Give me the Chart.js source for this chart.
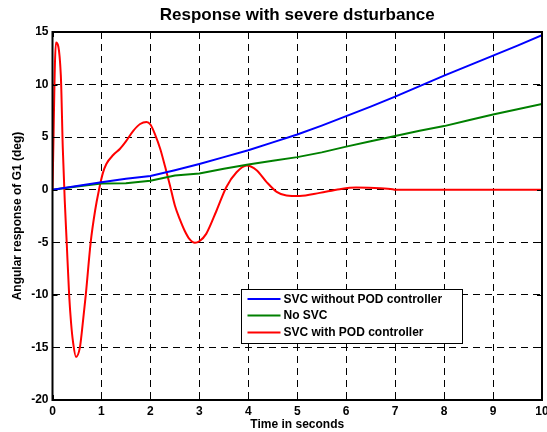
<!DOCTYPE html>
<html>
<head>
<meta charset="utf-8">
<script src="https://cdn.jsdelivr.net/npm/chart.js@4/dist/chart.umd.min.js"></script>
<style>
  html, body { margin: 0; padding: 0; background: #fff; }
  canvas { display: block; }
</style>
</head>
<body>
<canvas id="chart" width="547" height="432"></canvas>
<script>
const FONT = 'Liberation Sans, Arial, Helvetica, sans-serif';

const timeGrid = [0, 0.5, 1, 1.5, 2, 2.5, 3, 3.5, 4, 4.5, 5, 5.5, 6, 6.5, 7, 7.5, 8, 8.5, 9, 9.5, 10];
const svcNoPod = [0, 0.35, 0.7, 1.05, 1.3, 1.85, 2.45, 3.1, 3.75, 4.5, 5.25, 6.1, 7.0, 7.9, 8.85, 9.85, 10.85, 11.8, 12.75, 13.7, 14.7];
const noSvc = [0, 0.3, 0.6, 0.62, 0.85, 1.35, 1.55, 2.0, 2.4, 2.75, 3.1, 3.55, 4.1, 4.6, 5.1, 5.6, 6.05, 6.6, 7.15, 7.65, 8.15];

const podTime = [0, 0.07, 0.17, 0.21, 0.25, 0.29, 0.34, 0.38, 0.42, 0.48, 0.56, 0.6, 0.68, 0.78, 0.87, 0.95,
  1.03, 1.1, 1.24, 1.38, 1.5, 1.65, 1.79, 1.92, 2.0, 2.1, 2.2, 2.3, 2.4, 2.5, 2.6, 2.7, 2.8, 2.91,
  3.0, 3.14, 3.35, 3.55, 3.76, 3.97, 4.17, 4.37, 4.58, 4.78, 5.05, 5.46, 5.87, 6.2, 6.69, 6.95, 7, 10];
const svcPod = [0, 14, 10.9, 4, -1, -5, -10, -12.7, -14.5, -15.9, -15, -13.5, -10, -5, -2, 0,
  1.6, 2.45, 3.3, 3.9, 4.6, 5.6, 6.25, 6.45, 6.2, 5.2, 3.9, 2.2, 0.4, -1.5, -2.8, -3.9, -4.7, -5.05,
  -4.9, -4.2, -2.0, 0.24, 1.66, 2.3, 1.85, 0.75, -0.2, -0.55, -0.6, -0.3, 0.05, 0.2, 0.15, 0.05, 0, 0];

const xTicks = [0, 1, 2, 3, 4, 5, 6, 7, 8, 9, 10];
const yTicks = [-20, -15, -10, -5, 0, 5, 10, 15];

const seriesLabels = ['SVC without POD controller', 'No SVC', 'SVC with POD controller'];
const seriesColors = ['#0000ff', '#008000', '#ff0000'];

const toPoints = (xs, ys) => xs.map((x, i) => ({ x, y: ys[i] }));

// MATLAB-like box, inward ticks and the legend inside the axes
const matlabBox = {
  id: 'matlabBox',
  afterDraw(chart) {

    const { ctx, chartArea: ca, scales } = chart;

    ctx.save();
    ctx.strokeStyle = '#000';
    ctx.lineWidth = 1;
    ctx.beginPath();
    for (const t of xTicks) {
      const px = Math.round(scales.x.getPixelForValue(t)) + 0.5;
      ctx.moveTo(px, ca.bottom); ctx.lineTo(px, ca.bottom - 5);
      ctx.moveTo(px, ca.top); ctx.lineTo(px, ca.top + 5);
    }
    for (const t of yTicks) {
      const py = Math.round(scales.y.getPixelForValue(t)) + 0.5;
      ctx.moveTo(ca.left, py); ctx.lineTo(ca.left + 5, py);
      ctx.moveTo(ca.right, py); ctx.lineTo(ca.right - 5, py);
    }
    ctx.stroke();

    ctx.lineWidth = 2;
    ctx.strokeRect(ca.left, ca.top, ca.right - ca.left, ca.bottom - ca.top);

    // legend
    const bx = Math.round(ca.left + 188) + 0.5;
    const by = Math.round(ca.top + 257) + 0.5;
    ctx.fillStyle = '#fff';
    ctx.fillRect(bx, by, 221, 54);
    ctx.lineWidth = 1;
    ctx.strokeRect(bx, by, 221, 54);

    const rows = [9.5, 26, 43];
    ctx.font = 'bold 12px ' + FONT;
    ctx.textBaseline = 'middle';
    chart.data.datasets.forEach((ds, i) => {
      ctx.strokeStyle = ds.borderColor;
      ctx.lineWidth = 2;
      ctx.beginPath();
      ctx.moveTo(bx + 6, by + rows[i]);
      ctx.lineTo(bx + 39, by + rows[i]);
      ctx.stroke();
      ctx.fillStyle = '#000';
      ctx.fillText(ds.label, bx + 42, by + rows[i] + 0.5);
    });

    ctx.restore();

  }
};

const data = {
  datasets: [
    { label: seriesLabels[0], data: toPoints(timeGrid, svcNoPod), borderColor: seriesColors[0] },
    { label: seriesLabels[1], data: toPoints(timeGrid, noSvc), borderColor: seriesColors[1] },
    { label: seriesLabels[2], data: toPoints(podTime, svcPod), borderColor: seriesColors[2], tension: 0.3, cubicInterpolationMode: 'monotone' }
  ].map(ds => Object.assign({ borderWidth: 2, pointRadius: 0, fill: false }, ds))
};

const config = {
  type: 'line',
  data: data,
  options: {
    responsive: false,
    animation: false,
    devicePixelRatio: 1,
    layout: { padding: { left: 0, right: 5, top: 0, bottom: 0 } },
    scales: {
      x: {
        type: 'linear',
        min: 0,
        max: 10,
        afterFit: scale => {
          scale.height = 32;
          scale.paddingLeft = 0;
          scale.paddingRight = 0;
        },
        afterBuildTicks: scale => {
          scale.ticks = xTicks.map(v => ({ value: v }));
        },
        ticks: {
          padding: 4,
          maxRotation: 0,
          color: '#000',
          font: { family: FONT, size: 12, weight: 'bold' }
        },
        grid: { color: '#000', lineWidth: 1, drawTicks: false },
        border: { display: true, color: '#000', width: 1, dash: [7, 5] },
        title: {
          display: true,
          text: 'Time in seconds',
          color: '#000',
          padding: { top: 0, bottom: 0 },
          font: { family: FONT, size: 12, weight: 'bold' }
        }
      },
      y: {
        type: 'linear',
        min: -20,
        max: 15,
        afterFit: scale => {
          scale.width = 52.5;
          scale.paddingTop = 0;
          scale.paddingBottom = 0;
        },
        afterBuildTicks: scale => {
          scale.ticks = yTicks.map(v => ({ value: v }));
        },
        ticks: {
          padding: 4,
          color: '#000',
          font: { family: FONT, size: 12, weight: 'bold' }
        },
        grid: { color: '#000', lineWidth: 1, drawTicks: false },
        border: { display: true, color: '#000', width: 1, dash: [7, 5] },
        title: {
          display: true,
          text: 'Angular response of G1 (deg)',
          color: '#000',
          padding: { top: 10, bottom: 0 },
          font: { family: FONT, size: 12, weight: 'bold' }
        }
      }
    },
    plugins: {
      legend: { display: false },
      tooltip: { enabled: false },
      title: {
        display: true,
        fullSize: false,
        text: 'Response with severe dsturbance',
        color: '#000',
        padding: { top: 5, bottom: 6.6 },
        font: { family: FONT, size: 17, weight: 'bold' }
      }
    }
  },
  plugins: [matlabBox]
};

new Chart(document.getElementById('chart'), config);
</script>
</body>
</html>
